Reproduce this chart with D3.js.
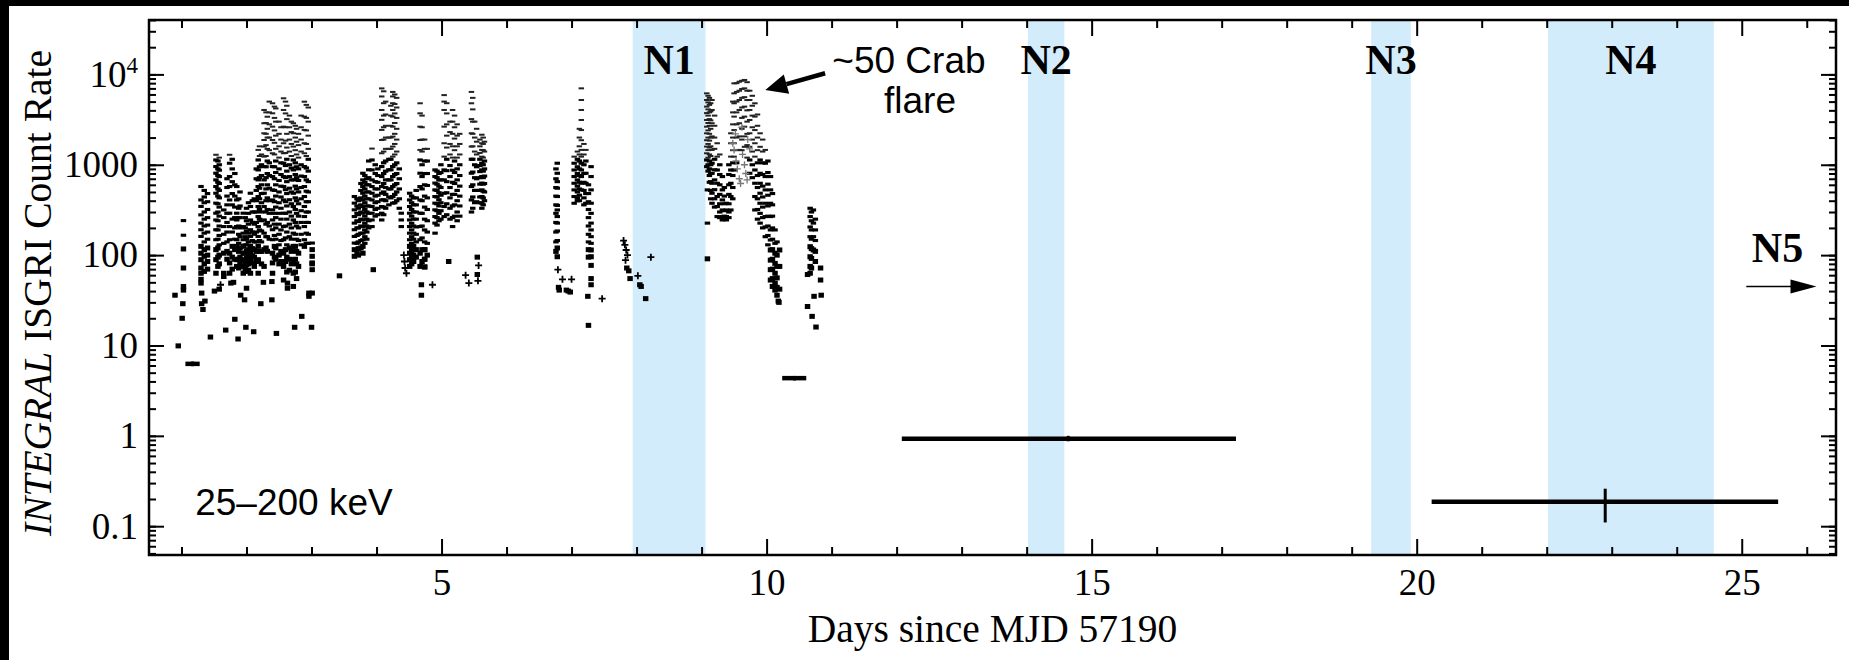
<!DOCTYPE html>
<html>
<head>
<meta charset="utf-8">
<script src="https://cdn.jsdelivr.net/npm/d3@7"></script>
<style>
  html, body { margin: 0; padding: 0; background: #fff; }
  svg { display: block; }
</style>
</head>
<body>
<div id="chart"></div>
<script>
// ---- values (days since MJD 57190, ISGRI count rate) ----

// shaded observing windows
const bandName  = ["N1", "N2", "N3", "N4"];
const bandStart = [7.94, 14.02, 19.30, 22.02];
const bandEnd   = [9.06, 14.58, 19.91, 24.57];

// pointing columns: one time per column, the rates stacked in it
const colDay = [
  1.30, 1.35, 1.40, 1.53, 1.56, 1.58, 1.65, 1.70, 1.74, 1.78, 1.82, 1.85, 1.88, 1.90,
  1.95, 1.98, 2.00, 2.03, 2.06, 2.09, 2.12, 2.15, 2.18, 2.20, 2.23, 2.27, 2.30, 2.32,
  2.35, 2.40, 2.43, 2.45, 2.50, 2.53, 2.57, 2.60, 2.62, 2.66, 2.69, 2.72, 2.75, 2.77,
  2.80, 2.84, 2.89, 2.92, 2.95, 3.01,
  3.66, 3.70, 3.72, 3.76, 3.79, 3.82, 3.85, 3.88, 3.93, 3.98, 4.02, 4.08, 4.11, 4.14,
  4.19, 4.22, 4.25, 4.28, 4.31, 4.35, 4.38, 4.51, 4.54, 4.57, 4.61, 4.67, 4.70, 4.74,
  4.78, 4.90, 4.93, 4.96, 4.99, 5.04, 5.08, 5.13, 5.17, 5.20, 5.24, 5.28, 5.46, 5.48,
  5.51, 5.54, 5.59, 5.62, 5.64, 5.66,
  6.76, 6.78, 7.04, 7.09, 7.12, 7.15, 7.19, 7.22, 7.26, 7.30,
  9.08, 9.10, 9.12, 9.14, 9.16, 9.20, 9.24, 9.28, 9.32, 9.35, 9.38, 9.42, 9.45, 9.48,
  9.50, 9.54, 9.58, 9.62, 9.66, 9.70, 9.74, 9.78, 9.82, 9.86, 9.90, 9.94, 9.98, 10.02,
  10.06, 10.09, 10.13, 10.16, 10.20, 10.67, 10.69, 10.72, 10.75
];
const colRate = [
  // days 1.3 - 3.0
  [575, 408, 346, 279, 226, 191, 161, 125, 105, 89, 72, 63, 54],
  [520, 440, 380, 300, 250, 210, 175, 140, 115, 97, 80, 66],
  [480, 390, 320, 260, 215, 180, 150, 120, 100, 85, 70],
  [1290, 1130, 955, 806, 680, 574, 484, 376, 291, 245, 191, 148, 115, 89, 63],
  [1100, 900, 760, 640, 540, 450, 370, 300, 240, 190, 150, 120, 95, 75],
  [1200, 1000, 870, 740, 620, 520, 430, 340, 270, 210, 165, 130, 100, 80, 42],
  [316, 260, 207, 170, 135, 105, 63],
  [700, 560, 450, 360, 290, 230, 180, 140, 110, 90],
  [1290, 1040, 740, 574, 408, 291, 207, 148, 105, 82, 63],
  [1150, 900, 650, 480, 360, 250, 180, 125, 95, 70],
  [800, 600, 450, 340, 260, 200, 150, 115, 90],
  [574, 408, 291, 245, 207, 148, 125, 89, 75],
  [420, 330, 260, 210, 170, 135, 110, 90, 72],
  [500, 350, 260, 200, 160, 120, 95, 80],
  [291, 207, 175, 148, 125, 105, 89, 75, 63],
  [260, 200, 160, 130, 105, 85, 70],
  [330, 240, 185, 150, 130, 110, 92, 78, 66],
  [380, 290, 220, 175, 140, 115, 95, 80, 68],
  [484, 345, 245, 191, 161, 125, 105, 89, 63],
  [400, 300, 230, 180, 145, 118, 98, 82],
  [420, 300, 220, 170, 140, 115, 95, 75],
  [900, 700, 520, 400, 300, 230, 180, 140, 110, 85],
  [1460, 1130, 877, 680, 574, 445, 345, 267, 207, 161, 125, 89, 63],
  [1600, 1250, 950, 720, 550, 420, 320, 250, 190, 145, 110],
  [1300, 1000, 760, 600, 480, 380, 300, 240, 185, 140, 110, 80],
  [4040, 2880, 2230, 1880, 1590, 1230, 955, 680, 484, 345, 245, 175, 115, 75],
  [3800, 2900, 2200, 1650, 1250, 950, 720, 540, 400, 300, 220, 160, 120],
  [3400, 2500, 2000, 1500, 1100, 800, 600, 430, 320, 230, 160, 110],
  [5000, 3800, 2800, 2000, 1450, 1050, 760, 550, 400, 290, 210, 150],
  [4790, 3710, 2640, 1880, 1340, 955, 740, 527, 408, 317, 245, 191, 148, 105, 82, 63],
  [4400, 3300, 2400, 1750, 1300, 950, 700, 520, 390, 290, 220, 165, 125, 95],
  [4200, 3000, 2100, 1500, 1100, 820, 600, 450, 340, 260, 200, 150, 120, 90],
  [3000, 2200, 1600, 1200, 900, 670, 500, 380, 290, 220, 170, 130, 100, 80],
  [2600, 1900, 1400, 1050, 780, 580, 440, 330, 250, 190, 145, 110, 85],
  [5440, 4040, 2640, 1730, 1340, 1040, 740, 574, 408, 291, 207, 148, 105, 75, 53],
  [5000, 3700, 2600, 1850, 1350, 980, 720, 530, 390, 290, 210, 155, 115, 85],
  [4500, 3200, 2200, 1550, 1150, 850, 650, 480, 350, 250, 180, 130, 95, 65],
  [3500, 2600, 1900, 1400, 1000, 740, 550, 410, 300, 220, 160, 120, 90, 68],
  [3000, 2300, 1700, 1250, 920, 680, 500, 370, 270, 200, 150, 110, 80],
  [2880, 2230, 1590, 1130, 877, 680, 484, 345, 245, 175, 125, 89, 63, 45],
  [2700, 2000, 1450, 1050, 780, 580, 430, 320, 230, 170, 125, 90, 65],
  [2500, 1800, 1300, 950, 720, 540, 400, 290, 210, 150, 110, 80, 55],
  [2200, 1650, 1200, 900, 670, 500, 370, 270, 200, 145, 105, 75],
  [3500, 2600, 1900, 1400, 1000, 750, 560, 420, 310, 230, 170, 130],
  [4990, 3410, 2430, 1730, 1340, 955, 740, 574, 445, 345, 267, 207, 148, 125],
  [4600, 3300, 2400, 1700, 1250, 920, 680, 510, 390, 300, 230, 175, 135],
  [4300, 3000, 2100, 1500, 1150, 850, 650, 500, 390, 300, 230, 170, 135],
  [136, 115, 97, 82, 69, 38],
  // days 3.6 - 5.7
  [445, 376, 317, 267, 226, 191, 161, 136, 115, 97],
  [420, 350, 290, 240, 200, 165, 135, 110],
  [400, 330, 280, 235, 200, 170, 140, 118, 100],
  [620, 520, 430, 360, 300, 250, 210, 175, 145, 120],
  [806, 680, 574, 484, 408, 345, 291, 245, 207, 175, 148, 125, 105],
  [760, 640, 540, 450, 380, 320, 270, 225, 190, 160, 135],
  [700, 600, 500, 420, 350, 300, 250, 210, 180, 150],
  [1100, 880, 720, 600, 500, 420, 350, 290, 240, 200],
  [1510, 1130, 877, 680, 574, 484, 408, 345, 291, 245, 207],
  [1000, 800, 650, 540, 450, 380, 320, 270],
  [900, 760, 640, 540, 460, 390, 330, 280],
  [7000, 5700, 4040, 3140, 2430, 1880, 1340, 955, 740, 574, 484, 408, 345, 291, 245],
  [6500, 4800, 3500, 2600, 1900, 1400, 1050, 800, 620, 500, 410, 340, 280],
  [5000, 3600, 2700, 2000, 1500, 1100, 850, 680, 560, 470, 400, 330],
  [2000, 1500, 1150, 880, 680, 540, 440, 360],
  [4500, 3500, 2700, 2000, 1500, 1150, 880, 680, 540, 430],
  [6400, 5700, 4800, 4040, 3410, 2640, 2050, 1590, 1230, 955, 740, 574, 445, 376],
  [6000, 4700, 3700, 2900, 2200, 1700, 1300, 1000, 780, 600, 470, 380],
  [5500, 4300, 3300, 2500, 1900, 1400, 1050, 800, 620, 500, 400],
  [900, 700, 540, 420, 330],
  [291, 245, 207],
  [484, 408, 345, 291, 245, 207, 175, 148, 125, 105, 89, 75],
  [450, 380, 320, 270, 225, 190, 160, 135, 112, 95, 80],
  [430, 360, 300, 250, 210, 175, 150, 125, 100, 85],
  [520, 430, 360, 300, 250, 205, 170, 140, 115, 95],
  [4790, 3710, 2640, 1880, 1460, 1130, 806, 574, 408, 291, 207, 148, 105, 75],
  [3500, 2600, 1900, 1400, 1000, 740, 540, 400, 290, 210, 155, 115, 85],
  [1900, 1500, 1100, 800, 600, 450, 340, 250, 190, 140, 115, 90, 74],
  [1500, 1100, 800, 590, 430, 320, 240, 180, 135, 100],
  [877, 740, 627, 527, 445, 376, 317, 267, 226, 175],
  [850, 720, 610, 520, 440, 370, 310, 260, 215],
  [800, 680, 580, 490, 410, 350, 290, 240],
  [1000, 820, 680, 560, 460, 380, 310, 250],
  [5900, 5000, 4040, 2640, 1730, 1230, 877, 680, 484, 345, 267],
  [4800, 3700, 2800, 2100, 1550, 1150, 860, 650, 490, 370, 280],
  [3000, 2300, 1700, 1300, 980, 740, 560, 430, 330, 250],
  [4040, 3000, 2200, 1600, 1200, 870, 640, 470, 350, 260, 207],
  [3500, 2600, 1950, 1450, 1100, 820, 620, 470, 360, 270],
  [2800, 2100, 1600, 1200, 900, 680, 520, 400, 300, 240],
  [2200, 1700, 1300, 1000, 760, 580, 450, 350, 270],
  [6400, 4790, 3200, 2230, 1590, 1150, 806, 574, 408, 300],
  [5500, 4100, 3000, 2200, 1600, 1150, 830, 600, 440, 330],
  [3000, 2000, 1400, 1000, 720, 520, 380],
  [2500, 1800, 1300, 950, 700, 520, 390],
  [1900, 1600, 1350, 1150, 980, 840, 720, 610, 520, 440, 380],
  [2150, 1730, 1460, 1230, 1040, 877, 740, 627, 527, 445, 376, 330],
  [2000, 1700, 1450, 1200, 1000, 850, 720, 610, 510, 430, 360],
  [1800, 1400, 1100, 900, 750, 620, 500, 400],
  // days 6.7 - 7.3
  [900, 700, 560, 450, 360, 290, 230, 180, 140, 110],
  [1040, 805, 650, 550, 445, 355, 316, 267, 226, 185, 145, 120, 96],
  [1230, 1040, 875, 740, 624, 527, 445, 375],
  [1400, 1150, 950, 800, 680, 580, 500, 430, 400],
  [2500, 2000, 1600, 1300, 1100, 900, 760, 640, 540, 460, 400],
  [7010, 5210, 4040, 3130, 2420, 1870, 1460, 1230, 1040, 875, 740, 624, 527],
  [1700, 1300, 1000, 800, 640, 520, 430, 360],
  [1460, 1100, 805, 624, 480, 375],
  [600, 480, 390, 320, 260, 210, 170, 140, 115, 95],
  [953, 740, 527, 375, 290, 226, 190, 160, 135, 114, 96, 77, 55, 47],
  // the flare, days 9.0 - 10.8
  [6170, 5210, 4400, 3730, 3130, 2640, 2230, 1870, 1590, 1340, 1130, 953],
  [5800, 4900, 4100, 3500, 2900, 2400, 2000, 1700, 1450, 1200, 1000, 850],
  [5500, 4600, 3800, 3200, 2700, 2200, 1850, 1550, 1300, 1100, 900, 760, 640],
  [4800, 3900, 3100, 2500, 2000, 1600, 1250, 1000, 800, 650, 520, 420],
  [5210, 4040, 2880, 2060, 1460, 1040, 805, 624, 484, 375],
  [3500, 2700, 2000, 1500, 1150, 880, 680, 530, 420, 340],
  [1730, 1230, 875, 624, 445, 345, 267],
  [1300, 1000, 780, 600, 470, 370, 300, 260],
  [740, 527, 408, 316, 267, 245],
  [560, 450, 370, 310, 270, 250],
  [375, 316, 267, 245],
  [1000, 780, 600, 470, 370, 300, 260],
  [2230, 1730, 1230, 875, 624, 445, 316],
  [5000, 3800, 2800, 2000, 1450, 1050, 760, 560, 420],
  [7960, 6170, 4790, 3410, 2420, 1730, 1230, 875],
  [8000, 6400, 5000, 3800, 2800, 2000, 1450, 1050],
  [8300, 6600, 5210, 4040, 2880, 2060, 1460],
  [8500, 6900, 5500, 4300, 3300, 2500, 1900, 1450],
  [8680, 7010, 5600, 4400, 3410, 2640, 2060, 1580],
  [8200, 6600, 5200, 4000, 3000, 2200, 1650, 1200],
  [6600, 5210, 4040, 3130, 2230, 1580, 1130, 805],
  [5800, 4500, 3500, 2600, 1900, 1400, 1000, 720],
  [4790, 3410, 2420, 1730, 1230, 875, 624, 445, 316],
  [3600, 2700, 2000, 1450, 1050, 760, 560, 420, 320, 250],
  [2230, 1580, 1130, 805, 624, 484, 375, 290, 226],
  [1900, 1400, 1050, 780, 580, 440, 340, 260, 200],
  [1460, 1040, 740, 527, 375, 267, 205, 160],
  [1100, 820, 610, 460, 350, 270, 210, 165, 130],
  [740, 527, 375, 267, 190, 147, 114, 88, 69, 53],
  [480, 360, 270, 200, 150, 115, 90, 70, 55, 45],
  [190, 135, 105, 81, 63, 49, 41],
  [140, 100, 75, 56, 44, 36],
  [114, 75, 42],
  [330, 267, 205, 160, 124, 96, 75, 63],
  [300, 240, 190, 150, 118, 92, 72],
  [316, 226, 160, 114],
  [250, 190, 145, 110, 85]
];

// isolated low-rate points
const lowDay = [
  0.90, 0.95, 1.01, 1.02, 1.03, 1.03, 1.03, 1.03, 1.03, 1.03, 1.33, 1.30, 1.31, 1.31, 1.36,
  1.445, 1.507, 1.65, 1.68, 1.76, 1.80, 1.82, 1.87, 1.91, 1.97, 1.99, 2.00, 2.11, 2.22,
  2.26, 2.39, 2.39, 2.46, 2.63, 2.63, 2.74, 2.85, 2.96, 2.96, 3.00, 3.01,
  3.43, 3.95, 4.69, 4.69, 4.74, 4.74, 4.74, 5.11, 5.55, 5.55,
  6.80, 6.81, 6.92, 6.95, 6.98, 7.25, 7.26, 7.85, 7.88, 7.90, 8.05, 8.07, 8.14,
  9.09, 9.09, 9.09, 10.63, 10.63, 10.70, 10.73, 10.76, 10.83, 10.83, 10.84, 10.18, 10.19
];
const lowRate = [
  36, 9.9, 20, 29, 45, 41, 72, 117, 166, 241, 25, 49, 38, 29, 31,
  12.4, 40, 58, 14.8, 49, 50, 19.5, 11.8, 36, 32, 15.9, 43, 14.2, 29,
  50, 51, 32, 13.6, 49, 43, 15.9, 21, 38, 35, 15.9, 80,
  59, 69, 47, 36, 115, 90, 74, 85, 95, 61,
  44, 41, 41, 40, 39, 35, 16.7, 72, 67, 55, 47, 45, 33,
  527, 226, 91, 61, 27, 21, 35, 16, 72, 53, 36, 31, 30
];

// points drawn with "+" symbols
const plusDay  = [1.60, 4.42, 4.43, 4.44, 4.46, 4.86, 5.37, 5.42, 5.56, 5.57, 6.79, 6.86, 7.00, 7.47, 7.80, 7.82, 7.84, 7.86, 7.83, 8.02, 8.22];
const plusRate = [47, 100, 85, 72, 63, 47, 60, 49, 52, 77, 69, 54, 54, 33, 145, 130, 114, 100, 88, 59, 95];
const greyPlusDay  = [9.48, 9.50, 9.53, 9.55, 9.58, 9.60, 9.63, 9.66, 9.68, 9.71, 9.74, 9.52, 9.62, 9.70];
const greyPlusRate = [1730, 1460, 1100, 900, 700, 620, 1300, 1000, 800, 1900, 1500, 2200, 2600, 680];

// long time bins with error bars
const longDay    = [1.17, 10.43, 14.64, 22.90];
const longDayLo  = [1.06, 10.24, 12.08, 20.23];
const longDayHi  = [1.28, 10.61, 17.22, 25.56];
const longRate   = [6.26, 4.35, 0.93, 0.186];
const longRateLo = [5.9, 4.1, 0.87, 0.11];
const longRateHi = [6.65, 4.6, 1.0, 0.26];

const binHalf = 0.042;   // half width of a pointing bin (days)

// axes
const xDomain = [0.5, 26.45];
const yDomain = [0.048, 40000];
const xMajorTicks = [5, 10, 15, 20, 25];
const xMinorTicks = [1, 2, 3, 4, 6, 7, 8, 9, 11, 12, 13, 14, 16, 17, 18, 19, 21, 22, 23, 24, 26];
const yMajorTicks = [0.1, 1, 10, 100, 1000, 10000];

// ---- drawing ----
const W = 1849, H = 660;
const pL = 149, pR = 1836, pT = 20, pB = 555;
const serif = '"Liberation Serif","Times New Roman",Times,serif';
const sans = '"Liberation Sans",Arial,Helvetica,sans-serif';

const svg = d3.select("#chart").append("svg")
  .attr("width", W)
  .attr("height", H);

svg.append("rect").attr("width", W).attr("height", H).attr("fill", "#fff");
// black edges of the scanned page
svg.append("rect").attr("x", 0).attr("y", 0).attr("width", 9).attr("height", H).attr("fill", "#000");
svg.append("rect").attr("x", 0).attr("y", 0).attr("width", W).attr("height", 6).attr("fill", "#000");

const x = d3.scaleLinear().domain(xDomain).range([pL, pR]);
const y = d3.scaleLog().domain(yDomain).range([pB, pT]);

// shaded windows
svg.append("g")
  .selectAll("rect")
  .data(bandName)
  .join("rect")
  .attr("x", (d, i) => x(bandStart[i]))
  .attr("width", (d, i) => x(bandEnd[i]) - x(bandStart[i]))
  .attr("y", pT)
  .attr("height", pB - pT)
  .attr("fill", "#d2ecfb");

// flatten the columns
const pts = [];
colDay.forEach((t, i) => colRate[i].forEach(r => pts.push({t: t, r: r})));
lowDay.forEach((t, i) => pts.push({t: t, r: lowRate[i]}));

// low rates have big relative errors so they look like squares
function markH(r) { return r < 130 ? 5 : (r < 1200 ? 3.1 : 2); }
function markFill(r) { return r < 1200 ? "#000" : "#222"; }

svg.append("g")
  .selectAll("rect")
  .data(pts)
  .join("rect")
  .attr("x", d => x(d.t - binHalf))
  .attr("width", d => x(d.t + binHalf) - x(d.t - binHalf))
  .attr("y", d => y(d.r) - markH(d.r) / 2)
  .attr("height", d => markH(d.r))
  .attr("fill", d => markFill(d.r));

function plusPath(d) {
  const cx = x(d.t), cy = y(d.r), s = 3.5;
  return `M${cx - s},${cy}H${cx + s}M${cx},${cy - s}V${cy + s}`;
}
svg.append("g")
  .selectAll("path")
  .data(plusDay.map((t, i) => ({t: t, r: plusRate[i]})))
  .join("path")
  .attr("d", plusPath)
  .attr("stroke", "#000")
  .attr("stroke-width", 1.8);
svg.append("g")
  .selectAll("path")
  .data(greyPlusDay.map((t, i) => ({t: t, r: greyPlusRate[i]})))
  .join("path")
  .attr("d", plusPath)
  .attr("stroke", "#777")
  .attr("stroke-width", 1.3);

// long bins
const longG = svg.append("g").attr("stroke", "#000");
longDay.forEach((t, i) => {
  longG.append("line")
    .attr("x1", x(longDayLo[i])).attr("x2", x(longDayHi[i]))
    .attr("y1", y(longRate[i])).attr("y2", y(longRate[i]))
    .attr("stroke-width", 4.5);
  longG.append("line")
    .attr("x1", x(t)).attr("x2", x(t))
    .attr("y1", y(longRateLo[i])).attr("y2", y(longRateHi[i]))
    .attr("stroke-width", 3);
});

// axes, all ticks pointing inwards
function styleAxis(g) {
  g.select(".domain").remove();
  g.selectAll(".tick line").attr("stroke", "#000").attr("stroke-width", 2);
  g.attr("font-family", serif).attr("font-size", 37);
  g.selectAll(".tick text").attr("fill", "#000");
}

svg.append("g").attr("transform", `translate(0,${pB})`)
  .call(d3.axisBottom(x).tickValues(xMinorTicks).tickSize(-8).tickFormat(""))
  .call(styleAxis);
svg.append("g").attr("transform", `translate(0,${pB})`)
  .call(d3.axisBottom(x).tickValues(xMajorTicks).tickSize(-16).tickPadding(14).tickFormat(d3.format("d")))
  .call(styleAxis);
svg.append("g").attr("transform", `translate(0,${pT})`)
  .call(d3.axisTop(x).tickValues(xMinorTicks).tickSize(-8).tickFormat(""))
  .call(styleAxis);
svg.append("g").attr("transform", `translate(0,${pT})`)
  .call(d3.axisTop(x).tickValues(xMajorTicks).tickSize(-16).tickFormat(""))
  .call(styleAxis);

const yMinor = y.ticks().filter(v => v >= yDomain[0] && v <= yDomain[1]);
svg.append("g").attr("transform", `translate(${pL},0)`)
  .call(d3.axisLeft(y).tickValues(yMinor).tickSize(-7).tickFormat(""))
  .call(styleAxis);
const yLab = svg.append("g").attr("transform", `translate(${pL},0)`)
  .call(d3.axisLeft(y).tickValues(yMajorTicks).tickSize(-15).tickPadding(11)
    .tickFormat(d => d >= 10000 ? "" : (d < 1 ? "0.1" : d3.format("d")(d))))
  .call(styleAxis);
yLab.selectAll(".tick text").filter(d => d >= 10000)
  .each(function() {
    const t = d3.select(this);
    t.append("tspan").text("10");
    t.append("tspan").text("4").attr("font-size", 23).attr("dy", "-0.6em");
  });
svg.append("g").attr("transform", `translate(${pR},0)`)
  .call(d3.axisRight(y).tickValues(yMinor).tickSize(-7).tickFormat(""))
  .call(styleAxis);
svg.append("g").attr("transform", `translate(${pR},0)`)
  .call(d3.axisRight(y).tickValues(yMajorTicks).tickSize(-15).tickFormat(""))
  .call(styleAxis);

// frame
svg.append("rect")
  .attr("x", pL).attr("y", pT)
  .attr("width", pR - pL).attr("height", pB - pT)
  .attr("fill", "none").attr("stroke", "#000").attr("stroke-width", 2.5);

// axis titles
svg.append("text")
  .attr("x", (pL + pR) / 2).attr("y", 642)
  .attr("text-anchor", "middle")
  .attr("font-family", serif).attr("font-size", 39.5)
  .text("Days since MJD 57190");

const yTitle = svg.append("text")
  .attr("transform", "translate(51,293) rotate(-90)")
  .attr("text-anchor", "middle")
  .attr("font-family", serif).attr("font-size", 39.5);
yTitle.append("tspan").attr("font-style", "italic").text("INTEGRAL");
yTitle.append("tspan").text(" ISGRI Count Rate");

// window labels
svg.append("g")
  .selectAll("text")
  .data(bandName)
  .join("text")
  .attr("x", (d, i) => x((bandStart[i] + bandEnd[i]) / 2))
  .attr("y", y(10100))
  .attr("text-anchor", "middle")
  .attr("font-family", serif).attr("font-weight", "bold").attr("font-size", 42)
  .text(d => d);

svg.append("text")
  .attr("x", x(25.55)).attr("y", y(84))
  .attr("text-anchor", "middle")
  .attr("font-family", serif).attr("font-weight", "bold").attr("font-size", 42)
  .text("N5");

// N5 arrow
const ay = y(45);
svg.append("line")
  .attr("x1", x(25.07)).attr("x2", x(25.85))
  .attr("y1", ay).attr("y2", ay)
  .attr("stroke", "#000").attr("stroke-width", 1.6);
svg.append("path")
  .attr("d", `M${x(26.15)},${ay}L${x(25.75)},${ay - 7}L${x(25.75)},${ay + 7}Z`)
  .attr("fill", "#000");

// flare annotation
const tail = [x(10.9), y(10300)], tip = [x(9.98), y(6720)];
const ang = Math.atan2(tip[1] - tail[1], tip[0] - tail[0]);
const hl = 22, hw = 10;
const base = [tip[0] - hl * Math.cos(ang), tip[1] - hl * Math.sin(ang)];
svg.append("line")
  .attr("x1", tail[0]).attr("y1", tail[1])
  .attr("x2", base[0]).attr("y2", base[1])
  .attr("stroke", "#000").attr("stroke-width", 4.5);
svg.append("path")
  .attr("d", `M${tip[0]},${tip[1]}L${base[0] - hw * Math.sin(ang)},${base[1] + hw * Math.cos(ang)}L${base[0] + hw * Math.sin(ang)},${base[1] - hw * Math.cos(ang)}Z`)
  .attr("fill", "#000");

const flareText = svg.append("g")
  .attr("text-anchor", "middle")
  .attr("font-family", sans).attr("font-size", 37);
flareText.append("text").attr("x", x(12.19)).attr("y", y(10300)).text("~50 Crab");
flareText.append("text").attr("x", x(12.36)).attr("y", y(3720)).text("flare");

svg.append("text")
  .attr("x", x(1.21)).attr("y", y(0.134))
  .attr("font-family", sans).attr("font-size", 37)
  .text("25\u2013200 keV");
</script>
</body>
</html>
